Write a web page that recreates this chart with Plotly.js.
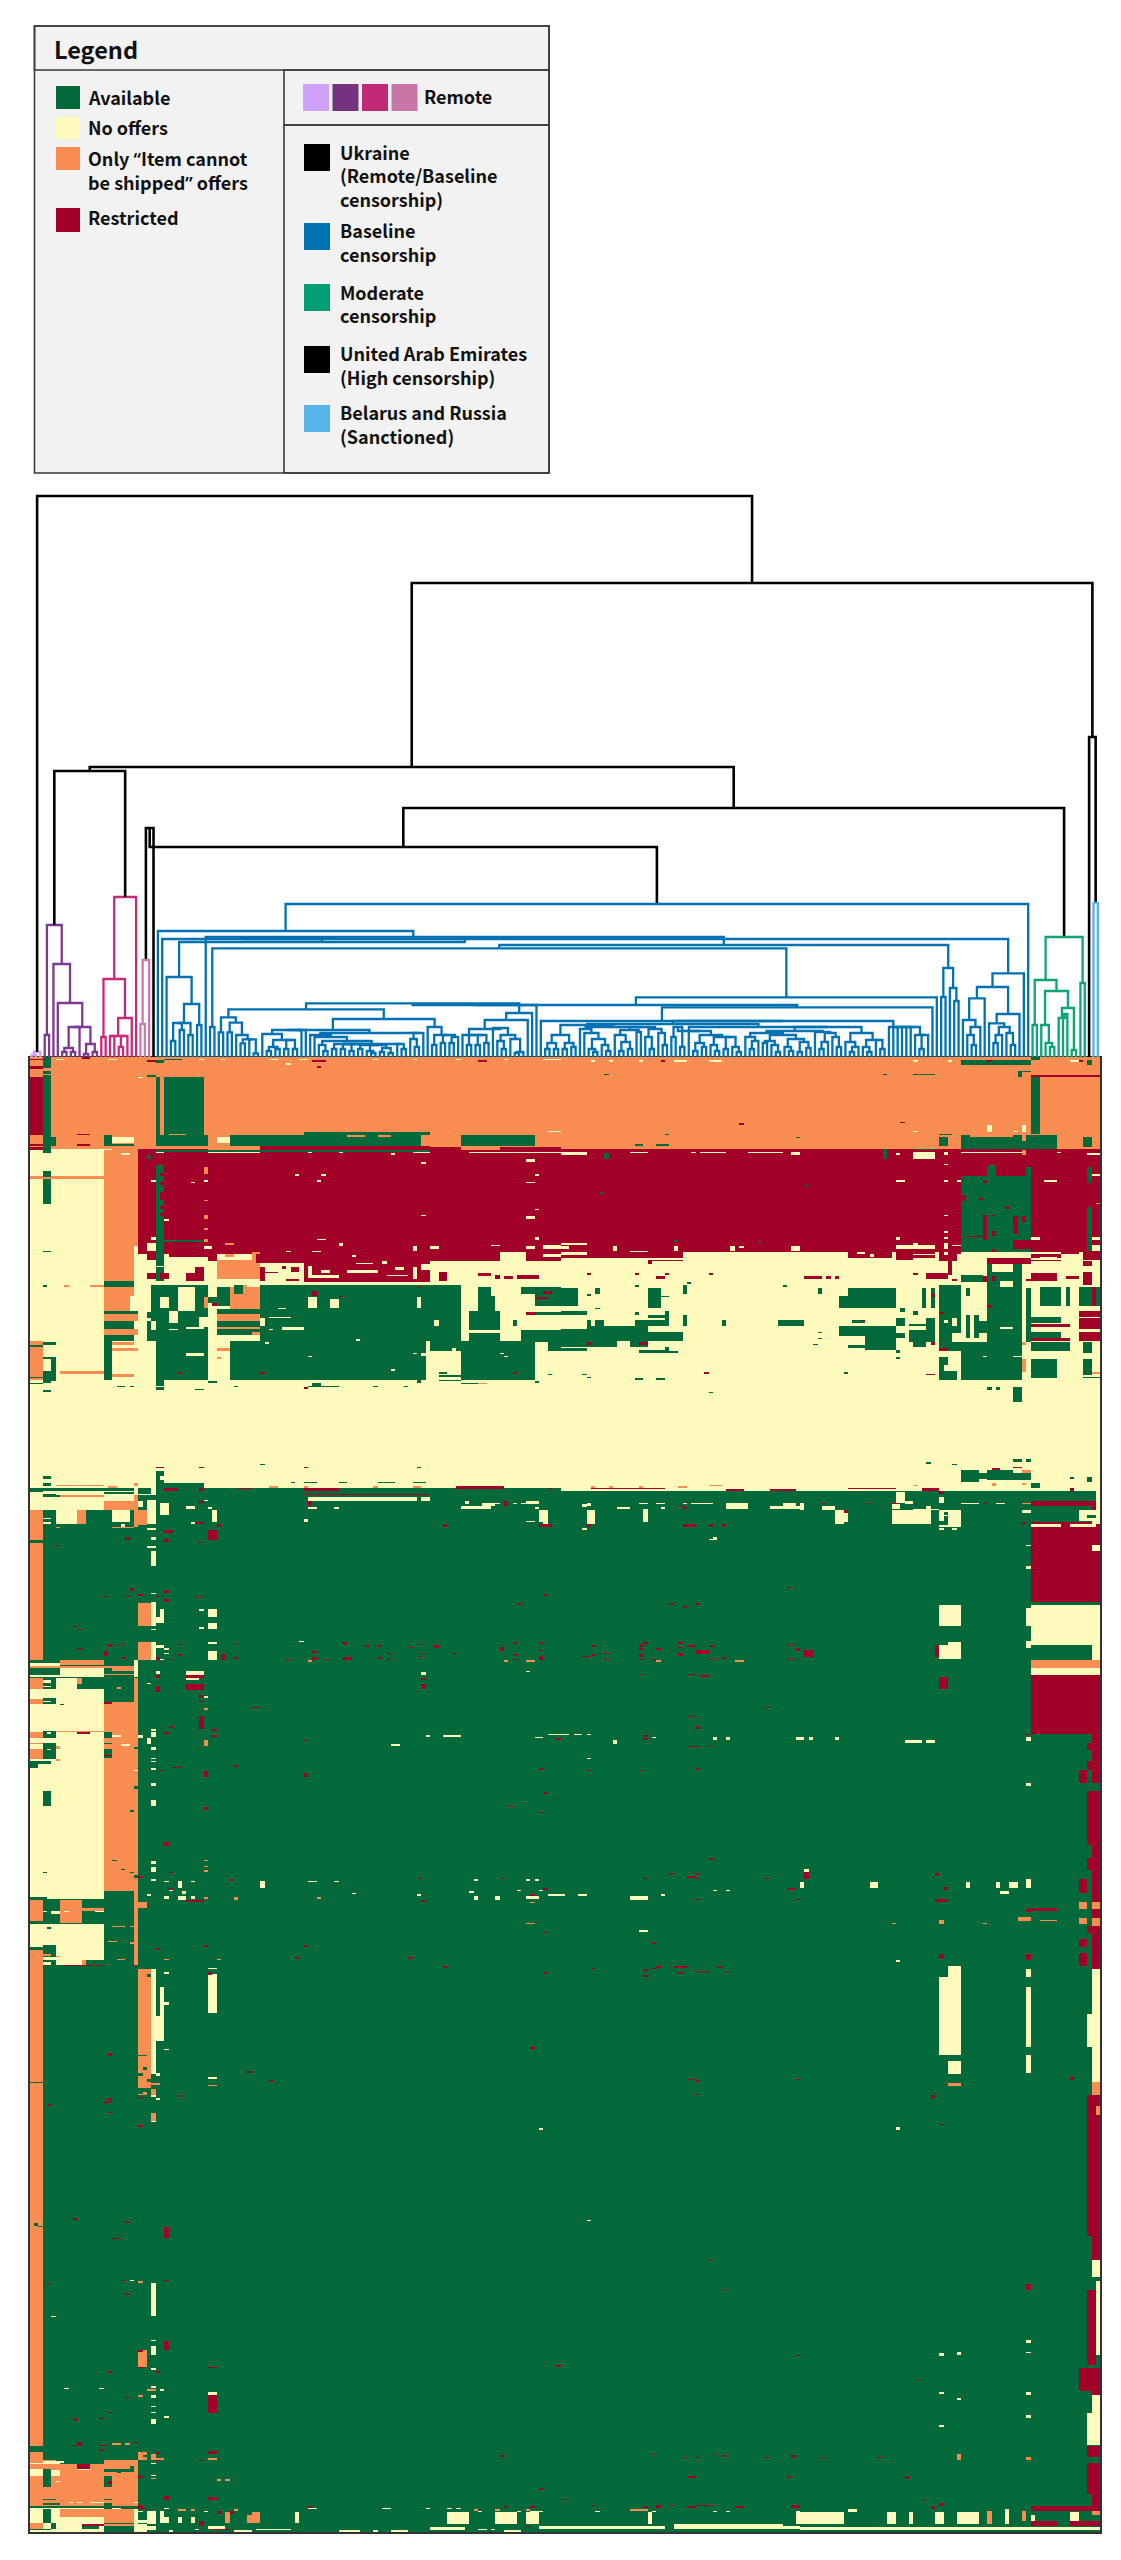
<!DOCTYPE html>
<html><head><meta charset="utf-8">
<script src="https://cdn.plot.ly/plotly-3.0.1.min.js"></script>
<style>html,body{margin:0;padding:0;background:#fff}#chart{width:1121px;height:2560px}</style>
</head><body><div id="chart"></div>
<script>
// ---- status codes and colours
const G=0,Y=1,O=2,R=3;
const statusColors=['#02693a','#fefbbd','#fa8e52','#a30029'];
const QUOTE='<span style="font-family:\'Noto Sans\'">';
const statusLabels=[['Available'],['No offers'],['Only '+QUOTE+'“</span>Item cannot','be shipped'+QUOTE+'”</span> offers'],['Restricted']];
const statusOrder=[G,Y,O,R];
const remoteColors=['#cfa3fb','#75327f','#c12a74','#c875a8'];
const clusterSwatches=['#000000','#0072b2','#009e73','#000000','#56b4e9'];
const clusterLabels=[['Ukraine','(Remote/Baseline','censorship)'],['Baseline','censorship'],['Moderate','censorship'],['United Arab Emirates','(High censorship)'],['Belarus and Russia','(Sanctioned)']];

// ---- dendrogram trees: [height, left, right, optional drawn leaf position]; 1 = one country
const palePurpleTree=[5,[2,1,1],1];
const purpleTree=[132,[22,1,1],[93,1,[54,1,[30,[30,[9,[5,1,1],[5,1,1]],1],[13,[3,1,1],[5,1,1]]]]]];
const magentaTree=[160,[78,[20,1,1],[39,[21,[21,1,1],[21,[10,1,1],1]],1]],1];
const paleMagentaTree=[97,[33,1,1],1];
const lightBlueTree=[154,1,1];
const greenTree=[120,[77,[32,1,1],[66,[32,1,[14,1,[10,1,1]]],[49,[39,1,[43,1,1]],[7,1,1]]]],[74,1,1]];

const c1=[80,1,[53,[34,[34,[16,1,1],[27,1,1]],[22,1,1]],[32,1,1]]];
const s2Left=[39.7,[24.7,1,1],[34.3,[24.7,1,1],[22,1,[17.7,[13.7,1,1],[17.7,1,[3.7,1,1]]]]]];
const a2x=[13,[8,1,1],[13,[8,1,1],[13,[6,1,1],[12,[8,1,1],[12,[6,1,[4,1,1]],[9,[5,1,1],[4,1,1]]]]]]];
const a2=[24,[22,1,[20,1,[16,[12,1,[6,1,1]],[13,a2x,[13,1,[8,1,1]]]]]],[24,[18,1,[10,1,1]],1]];
const b1Full=[27,[27,[27,[23,1,[17,[10,[6,1,1],[8,1,1]],[17,[8,1,1],[8,1,1]]]],1],1],a2];
const b2=[30,1,[22,[12,1,1],[22,[14,1,1],[20,[14,1,1],1]]]];
const s2=[47.7,s2Left,[38,b1Full,b2]];
const k99=[22,1,[22,[12,1,1],[22,[12,1,1],[14,1,1]]]];
const k106=[29,1,[22,[16,1,[8,1,1]],[18,1,[5,[4,1,1],1]]]];
const k99all=[44,[37,[28,k99,k106],1],1];
const u1=[53.7,s2,k99all];
const v1=[52,u1,1];
const ba=[22,[14,[8,1,1],[8,1,1]],[14,[8,1,1],[10,1,1]]];
const bb=[30,[28,1,[24,1,[18,[8,1,[5,1,1]],[12,1,[6,1,1]]]]],[30,[27,[22,1,[15,[6,1,1],[8,1,1]]],[25,1,1]],[28,[20,1,[8,1,1]],[24,1,[12,1,1]]]]];
const bc=[30,[20,1,1],[10,1,1]];
const bd=[26,1,[22,[14,[6,1,1],[10,1,1]],[20,[12,1,[6,1,1]],[20,[8,1,1],[10,1,[5,1,1]]]]]];
const be=[24,[20,1,[16,[8,1,1],1]],[22,[16,[14,1,1],[12,1,[5,1,1]]],[18,[10,1,[6,1,1]],[15,[5,1,1],[9,1,1]]]]];
const bf=[25,1,[24,[15,[8,1,1],1],[20,1,[10,1,1]]]];
const bg=[24,[15,1,[10,[5,1,1],1]],[17,[10,1,[5,1,1]],[17,1,[8,1,1]]]];
const bh=[30,1,[30,1,[30,1,[30,1,[30,1,[30,1,[22,1,[22,[8,1,1],1]]]]]]]];
const wide=[36,1,[36,[33,[32,ba,bb],[30,[26,bc,bd],[30,[26,be,bf],bg]]],bh]];
const w1=[52,v1,[49.7,wide,1]];
const s1=[59.7,w1,1];
const n213=[108.7,[30,1,1],s1];
const tail209=[89,[60,1,1],[69,1,[56,1,1]]];
const n946=[112,n213,tail209];
const p1=[120,1,n946];
const m1=[115,c1,p1];
const pale1=[118,1,m1];
const tail214=[70,[58.7,[37,1,[30,[22,1,[12,1,1]],1]],1],[43,[33.7,1,[30,[22,[14,1,1],1],[24,1,[12,1,1]]]],1]];
const tailAll=[83.7,tail214,1];
const n1=[118,pale1,tailAll,87.7];
const blueTree=[153,[126,1,n1],1];

const coloured=(c,t)=>({color:c,tree:t});
const dendro=[561,coloured('#cf9ffb',palePurpleTree),
 [474,
  [290,
   [286,coloured('#7d3a8e',purpleTree),coloured('#c62a78',magentaTree)],
   [249,[210,[229,coloured('#cc79a7',paleMagentaTree),1],coloured('#0072b2',blueTree)],coloured('#0ea575',greenTree)]],
  [320,1,coloured('#56b4e9',lightBlueTree)]]];

// ---- availability matrix, read as rectangles of equal status, crop by crop.
// Each entry: [from, to (along countries), from, to (along items), status]
const cellsA=[
 [85,1568,52,325,O],[385,1568,325,640,R],[85,285,325,1025,Y],[285,385,325,720,O],[372,1568,640,1020,Y],[285,372,720,1020,Y],[372,385,620,640,Y],
 [85,122,55,60,R],[85,122,80,87,R],[85,122,110,285,R],[122,147,52,325,G],[122,147,82,90,O],[122,147,100,105,O],[122,158,288,315,G],[122,147,315,340,G],[85,122,310,315,R],[85,122,320,328,R],
 [85,285,405,417,O],[122,147,395,490,G],[122,147,633,638,G],[122,147,410,415,O],
 [285,310,285,315,G],[310,372,290,308,Y],[222,258,281,285,R],[222,258,312,315,R],[310,372,312,316,G],[285,312,325,330,Y],[335,360,338,342,Y],
 [437,447,108,285,G],[460,573,108,285,G],[437,585,285,315,G],[470,525,282,285,O],[460,573,285,315,G],[585,610,285,325,O],[610,648,290,306,Y],[640,1185,285,315,G],[850,1200,275,285,G],[975,1025,283,288,O],[1060,1100,285,288,O],[1287,1500,285,315,G],[1530,1568,272,276,Y],
 [725,1200,316,328,R],[585,725,316,328,O],[440,1200,328,332,G],[440,585,318,326,O],[1200,1568,322,330,R],[1287,1400,322,328,O],
 [410,430,104,108,G],[385,397,108,113,Y],[410,430,58,62,R],[437,460,62,70,G],[460,510,55,60,G],[160,185,56,60,Y],[298,322,56,60,Y],[560,572,56,60,Y],[620,635,56,60,Y],[750,775,56,60,Y],[838,862,56,60,Y],[800,812,70,74,Y],[890,900,78,82,R],[875,912,60,64,R],[1040,1050,56,60,Y],[1155,1165,56,60,Y],[1280,1290,56,60,Y],[1340,1362,60,64,R],[1405,1415,56,60,Y],[1525,1568,56,60,Y],[225,258,53,56,R],
 [385,1568,333,339,Y],[385,437,325,355,R],[460,1200,339,345,R],[410,425,345,355,G],
 [460,585,333,340,R],[725,1160,333,339,R],[862,872,333,339,Y],[950,960,333,339,Y],[1100,1112,339,343,Y],[1175,1187,333,339,Y],[1200,1310,333,339,R],
 [437,460,375,590,G],[447,460,398,408,R],[447,460,425,435,R],[447,460,458,480,R],[447,460,495,505,R],[447,460,520,530,R],[460,573,602,606,G],[573,585,380,400,O],[573,585,418,423,Y],[573,585,480,485,O],[573,585,525,535,O],[573,585,565,570,O],[573,585,595,605,O],[422,437,418,423,Y],[460,472,535,540,Y],[535,548,423,427,Y],[822,835,400,405,Y],[900,912,400,405,Y],[887,898,418,423,Y],[1175,1187,365,370,Y],[1475,1490,355,368,Y],[1490,1502,400,405,Y],[1475,1500,425,430,Y],[1490,1502,505,512,Y],[1475,1490,527,535,Y],[1175,1187,525,530,Y],
 [422,435,592,602,Y],[412,437,610,630,Y],[437,460,592,610,G],[887,912,594,602,Y],[950,960,610,616,Y],[1490,1502,592,600,Y],[1375,1400,612,616,Y],[1150,1162,620,632,Y],[1200,1225,620,628,Y],[1475,1500,620,628,Y],[1525,1568,615,628,Y],[800,812,630,634,Y],[875,900,630,634,Y],[573,597,620,628,Y],[625,660,610,614,O],[625,660,640,648,O],
 [437,460,610,720,G],[437,460,675,680,Y],[460,585,650,720,Y],[385,437,640,690,Y],[410,437,700,715,R],[447,470,700,715,R],[525,570,700,720,R],[548,573,680,700,R],[385,420,640,660,Y],[410,437,640,660,R],[470,585,640,650,R],[585,610,640,665,R],
 [610,723,657,718,O],[700,723,635,657,O],[610,723,718,735,Y],[585,610,665,735,Y],
 [720,850,640,668,R],[737,850,668,725,Y],[787,800,676,686,R],[812,835,680,696,R],[725,735,680,720,R],[740,775,696,700,R],[800,835,716,722,R],
 [850,1200,640,725,R],[975,1062,690,698,Y],[900,925,690,698,Y],[862,873,675,710,Y],[985,1000,645,650,Y],[1075,1085,665,670,Y],[1112,1125,680,690,Y],[1150,1170,680,715,Y],[1000,1050,668,672,Y],[862,950,705,712,Y],[1080,1140,702,708,Y],[1175,1200,670,690,Y],
 [1200,1287,665,725,Y],[1225,1250,695,722,R],[1190,1200,690,725,R],[1287,1568,665,740,Y],[1340,1375,700,706,R],[1410,1437,706,716,R],[1450,1510,704,716,R],[1390,1400,704,716,R],[1200,1568,640,665,R],[1400,1475,635,665,Y],[1287,1400,655,662,R],[1475,1525,650,665,R],[1525,1568,640,650,Y],
 [285,372,720,740,G],[285,372,740,810,O],[358,385,765,810,Y],[285,385,810,822,G],[285,385,822,845,O],[285,372,845,865,G],[285,385,865,885,O],[285,372,885,900,G],[285,310,900,1022,G],[310,372,905,915,O],[310,385,925,935,O],[310,372,935,1000,Y],[310,372,1000,1010,O],[258,285,735,740,O],[185,197,735,740,O],[120,132,736,740,G],
 [412,437,815,900,G],[412,437,835,843,Y],[423,585,735,900,G],[447,472,770,805,Y],[497,545,740,810,Y],[470,497,810,850,Y],[520,575,860,867,Y],[475,497,865,870,Y],[573,585,770,803,O],[560,585,830,860,Y],[423,440,845,870,Y],
 [585,610,770,790,G],[597,610,790,800,R],[585,610,840,875,Y],
 [610,637,740,800,G],[637,723,740,807,O],[660,685,737,760,G],[685,697,737,765,O],[610,723,807,823,G],[610,723,823,842,O],[610,723,842,885,G],[610,723,860,867,O],[700,723,875,885,O],
 [723,1287,735,900,G],[862,888,770,803,Y],[925,948,775,803,Y],[1162,1175,770,803,Y],[1215,1230,840,855,Y],[775,800,803,808,Y],[750,810,832,836,Y],[723,735,835,855,Y],[787,850,862,870,Y],[750,760,865,870,Y],[875,888,755,765,R],[950,960,768,773,R],[862,950,728,735,Y],[1165,1175,738,745,R],
 [1287,1310,735,840,Y],[1338,1390,738,812,G],[1310,1338,740,810,Y],[1375,1390,740,765,Y],[1390,1463,740,900,Y],[1463,1500,738,760,G],[1500,1568,740,800,G],[1475,1500,760,800,Y],[1310,1400,812,900,G],[1300,1400,870,880,Y],[1463,1568,870,900,G],[1530,1568,800,812,Y],[1500,1568,815,825,G],[1500,1568,830,850,Y],[1500,1568,825,830,Y],[1440,1450,840,855,G],[1475,1490,815,825,R],[1520,1540,755,762,R],[1500,1527,770,776,R],
 [437,585,900,1020,G],[523,575,938,946,Y],[585,610,900,1020,Y],[585,622,905,918,Y],[610,648,905,1020,Y],[648,1187,900,1020,G],[1187,1287,940,1015,Y],[1175,1187,938,946,Y],[1200,1287,900,935,G],[1287,1500,900,1022,G],[1500,1530,905,935,Y],[1500,1568,935,1020,Y],[1500,1530,900,905,G],[1530,1568,900,935,G],[1225,1250,998,1002,G],[1225,1287,1005,1012,G],[1265,1275,925,938,Y],
 [500,510,997,1002,R],[725,735,997,1002,R],[1440,1450,997,1002,R],[1530,1550,1000,1005,G],[1100,1112,988,992,Y],[1000,1012,898,902,Y],[735,748,908,912,Y],[862,872,948,952,Y],[1150,1162,938,942,Y],[1400,1412,938,942,Y],[1415,1425,945,950,Y],[610,622,950,955,O],[610,648,925,935,O],
 [85,1568,1020,1345,Y],[437,460,1042,1050,G],[860,948,1035,1042,G],[875,900,1028,1035,G],[120,147,1050,1053,G],[85,122,1030,1034,G],[122,147,1025,1030,G],[322,347,1038,1042,G],[360,372,1035,1040,G],[548,573,1045,1050,G],[660,672,1038,1042,G],[1050,1060,1038,1042,G],[1125,1137,1038,1042,G],[848,860,1040,1044,R],[1287,1340,1028,1034,G],[1340,1362,1028,1032,O],[437,460,1020,1035,G],[585,610,1022,1026,G],[1162,1175,1020,1026,G],[1225,1287,1020,1025,G],[1500,1512,1025,1030,G],
 [85,122,900,1020,O],[85,122,915,920,G],[85,122,1010,1015,G],[122,158,905,1022,G],[122,147,915,950,Y],[122,147,958,990,Y],[147,158,915,950,Y],[172,285,992,1000,O],
 [725,735,1270,1274,G],[435,460,1282,1286,R],[560,572,1282,1286,R],[848,860,1282,1286,R],[1162,1175,1278,1286,G],
 [122,147,1305,1318,G],[122,147,1328,1340,G],[437,460,1295,1345,G],[447,460,1305,1320,Y],[460,573,1330,1342,G],[160,285,1335,1340,O],
 [460,573,1345,1350,G],[300,322,1338,1342,O],[372,385,1330,1340,O],[812,825,1325,1328,G],[848,885,1325,1328,G],[950,975,1325,1328,G],[1060,1112,1325,1328,G],[1150,1187,1325,1328,G],[750,772,1338,1342,O],[848,862,1338,1345,O],[665,700,1342,1346,R],[1040,1060,1338,1342,O],[1150,1175,1338,1342,O],[1280,1410,1340,1346,R],[1530,1550,1342,1346,R],
 [85,285,1350,1365,Y],[85,122,1350,1355,G],[122,160,1360,1368,G],[285,372,1350,1385,Y],[285,372,1358,1362,G],[372,437,1345,1365,Y],[385,420,1345,1360,G],[437,585,1345,1365,G],[460,500,1345,1350,R],[560,575,1345,1350,R],
 [585,1568,1350,1500,G],[85,122,1365,1390,Y],[122,172,1368,1385,Y],[172,285,1365,1372,O],[172,285,1372,1385,Y],[85,122,1390,1410,Y],[85,122,1392,1396,R],
 [85,122,1410,1500,O],[122,160,1385,1410,Y],[122,160,1410,1450,G],[130,158,1420,1426,Y],[160,222,1385,1450,Y],[222,235,1410,1450,O],[222,285,1385,1410,Y],[235,320,1410,1450,G],[285,372,1385,1410,O],[320,360,1410,1445,Y],[360,372,1410,1450,G],[372,385,1365,1450,O],[385,412,1365,1410,G],[372,412,1415,1450,O],[412,437,1380,1450,Y],[437,585,1365,1500,G],[122,585,1450,1500,G],[447,472,1390,1410,Y],[450,470,1410,1422,Y],[437,460,1425,1445,G],
 [862,1165,1370,1385,Y],[1175,1200,1370,1385,Y],[850,1200,1360,1367,R],[850,950,1345,1352,R],[862,875,1385,1395,R],[862,888,1400,1408,Y],[585,610,1468,1500,R],[600,610,1412,1445,Y],[1515,1527,1412,1450,Y],[1287,1350,1398,1408,Y],[1350,1375,1398,1408,Y],[522,550,1398,1404,Y],[848,862,1440,1445,Y],[550,575,1445,1450,R],[1475,1490,1442,1447,Y],[1515,1540,1452,1458,R],[1235,1250,1452,1458,R],[1415,1425,1385,1395,R],[1300,1310,1385,1392,Y],[1350,1385,1390,1396,Y],[1440,1450,1386,1392,Y],[1475,1512,1385,1392,Y],[350,358,1495,1499,R],[425,435,1495,1499,Y],[460,472,1470,1476,R],[610,622,1452,1458,R]
];
const cellsB=[
 [0,1510,52,325,O],[1122,1310,62,72,G],[1310,1335,52,62,G],[1275,1285,97,108,G],[985,1048,100,105,G],[120,132,100,105,G],[897,910,100,105,G],[1310,1335,108,280,G],[1310,1510,105,108,R],[1385,1395,108,112,O],[1425,1445,108,112,O],[1280,1310,90,95,G],[85,95,58,62,Y],[135,145,58,62,Y],[225,235,58,62,Y],[285,295,60,64,R],[320,358,58,62,Y],[410,447,58,62,Y],[985,995,58,62,Y],[1085,1097,58,62,Y],[1425,1450,58,62,Y],[1475,1485,62,75,G],[1450,1460,62,66,R],[1198,1210,58,62,R],
 [497,510,249,254,R],[947,960,244,248,R],[298,308,280,285,G],[660,672,288,293,G],[985,997,270,275,Y],[210,235,312,316,G],[272,310,312,316,G],
 [1122,1385,285,325,G],[1060,1085,288,315,G],[1060,1097,280,284,G],[1197,1210,255,275,Y],[1285,1298,255,275,Y],[1285,1298,285,305,O],[1460,1485,290,320,G],[1260,1275,270,274,Y],[1150,1260,283,287,O],
 [0,1510,325,635,R],[0,70,333,342,Y],[195,245,333,339,Y],[395,458,333,339,Y],[522,620,333,339,Y],[360,372,333,339,Y],[650,670,333,342,Y],[985,1048,335,355,Y],[985,1048,325,332,G],[120,132,340,355,G],[897,910,325,355,G],[935,947,339,343,Y],[1072,1085,335,345,Y],[1072,1085,370,375,Y],[1122,1300,333,340,Y],[1385,1397,333,340,Y],[1470,1510,337,345,Y],[1285,1297,330,345,O],
 [1122,1310,405,640,G],[1197,1222,375,405,G],[1297,1310,380,405,G],[1135,1185,585,592,R],[1185,1197,525,600,R],[1260,1272,530,580,R],[1260,1310,600,625,R],[1122,1135,465,485,R],[1237,1247,495,505,R],[1210,1222,525,530,R],[1285,1297,530,548,R],[1172,1185,475,480,R],[1210,1222,575,585,R],[1210,1222,625,635,R],[1185,1197,420,430,R],
 [1475,1487,380,430,G],[1475,1487,500,640,G],[1485,1510,400,405,Y],[935,958,418,423,Y],[1348,1385,420,426,Y],[1310,1335,592,602,Y],[1072,1085,418,425,Y],[1110,1122,418,424,Y],[1072,1085,525,530,Y],[685,697,432,437,G],[108,120,455,459,G],[1498,1510,487,491,O],[320,333,598,603,G],[548,560,605,610,G],
 [0,70,607,613,Y],[0,30,618,628,Y],[145,158,618,630,Y],[195,245,630,638,Y],[320,333,620,630,Y],[472,485,620,630,Y],[497,510,616,622,Y],[647,672,620,630,Y],[935,947,592,600,Y],[985,1000,610,615,Y],[935,1048,615,628,Y],[1072,1085,590,597,Y],[1072,1085,610,625,Y],[1097,1120,615,620,Y],[1072,1085,572,577,Y],[1485,1510,590,600,Y],[1485,1510,615,632,Y],[1310,1385,635,640,Y],
 [0,1510,635,1020,Y],[0,70,640,655,R],[70,345,635,655,R],[0,72,640,645,Y],[247,347,658,665,R],[247,260,665,672,R],[285,297,640,655,R],[800,930,635,655,R],[825,850,638,642,Y],[860,875,642,648,Y],[935,1048,628,660,R],[985,1048,640,645,Y],[985,1048,652,656,Y],[1060,1110,625,665,R],[1072,1085,635,645,Y],[1085,1097,665,705,R],[1110,1122,625,640,R],
 [1197,1310,655,670,R],[1310,1400,640,655,R],[1310,1400,660,665,R],[1340,1385,648,652,Y],[1460,1510,630,660,R],[1460,1485,665,675,R],[1400,1450,635,640,R],
 [0,45,742,800,G],[0,72,812,825,G],[0,72,868,918,G],[0,72,925,932,G],[72,160,855,920,G],[72,85,840,855,G],[95,120,840,855,G],[160,250,855,905,G],[250,347,875,900,G],[210,305,838,855,G],[297,307,810,855,G],[247,305,825,835,G],[347,357,825,855,G],[307,347,835,842,Y],[160,210,904,915,Y],[197,245,904,918,G],[222,245,908,916,R],[222,300,930,938,G],[297,307,920,935,G],[310,335,935,938,G],[247,285,742,805,G],[285,310,765,770,G],[97,107,742,762,G],[72,85,763,767,G],[210,222,737,741,G],[347,357,735,762,G],[350,357,725,730,G],[97,107,803,807,G],[210,222,818,825,G],[72,85,905,915,R],
 [447,458,840,856,G],[608,685,840,856,G],[722,733,742,764,G],[620,632,736,741,G],[785,935,742,805,G],[785,800,742,765,Y],[722,733,875,880,G],[722,733,893,897,G],[710,722,910,915,G],
 [785,935,855,890,G],[848,935,890,928,G],[785,800,855,885,G],[800,848,915,925,G],[935,960,880,895,G],[935,947,930,938,G],[935,947,950,955,G],[935,960,835,855,G],[822,848,840,850,G],[835,848,840,845,R],[947,960,805,815,G],[985,997,810,825,G],
 [1010,1022,742,802,G],[1035,1048,742,802,G],[1035,1048,760,770,R],[973,1048,872,905,G],[1022,1048,835,872,G],[973,1022,852,858,G],[985,1022,905,920,G],[1035,1048,905,915,R],
 [1060,1122,735,800,G],[1060,1122,800,935,G],[1072,1085,840,850,Y],[1097,1110,835,855,Y],[1072,1097,805,830,G],[1097,1122,880,905,Y],[1097,1122,860,875,G],[1060,1085,925,935,R],[1060,1072,815,820,R],
 [1060,1085,950,1022,G],[1085,1110,990,1022,G],[1072,1085,975,990,Y],[1022,1048,1000,1005,R],[1022,1048,1022,1026,G],[1085,1097,1040,1045,R],
 [1122,1285,905,1022,G],[1197,1285,670,905,G],[1210,1260,670,695,Y],[1235,1260,720,740,Y],[1235,1260,860,868,Y],[1122,1185,705,725,G],[1135,1147,742,765,G],[1122,1160,818,825,Y],[1135,1147,825,895,G],[1160,1172,825,895,G],[1172,1197,845,880,G],[1197,1210,795,805,R],[1285,1297,905,915,O],[1285,1297,958,995,O],[1185,1197,706,725,R],[1260,1285,945,952,Y],[1185,1197,945,952,Y],
 [1310,1385,958,1015,G],[1310,1420,908,935,G],[1310,1395,875,895,G],[1310,1395,828,850,G],[1335,1400,738,800,G],[1410,1422,740,800,G],[1297,1310,742,905,G],[1310,1420,852,860,R],[1320,1420,895,902,R],[1310,1385,1018,1022,G],[1285,1400,1025,1030,G],
 [1450,1510,740,800,G],[1485,1500,740,800,R],[1450,1510,810,830,R],[1450,1510,835,865,R],[1450,1510,875,900,R],[1460,1485,905,940,G],[1460,1485,958,1005,G],[1485,1510,995,1000,O],[1460,1510,1010,1015,G],[1485,1500,1025,1030,O],
 [685,733,706,718,R],[745,758,706,718,R],[772,785,706,718,R],[272,297,706,717,R],[1022,1085,700,717,R],[1310,1385,700,722,R],[1410,1448,706,718,R],[1460,1485,695,735,R],[70,85,700,705,R],[210,222,700,705,R],[297,307,700,705,R],[410,422,700,705,R],[985,997,700,705,R],[1100,1110,718,722,R],[1300,1310,718,722,R],[1210,1222,706,722,R],
 [397,410,995,1000,R],[60,72,1000,1005,G],[72,85,1010,1015,G],[170,197,1025,1030,G],[210,235,1015,1018,G],[270,297,1015,1020,G],[247,272,1027,1031,O],[285,295,1025,1031,R],[585,597,1027,1031,O],[620,647,1027,1031,O],[800,812,1027,1031,O],[835,848,1027,1031,O],[935,947,1027,1031,O],[790,800,995,1000,G],
 [0,1510,1020,1350,Y],[410,422,1054,1058,G],[1197,1210,1042,1050,G],[1222,1235,1042,1050,G],[1272,1285,1040,1085,G],[1022,1035,1265,1268,G],[1097,1110,1273,1277,G],[1272,1285,1280,1285,R],[1297,1310,1258,1265,G],[1272,1285,1258,1265,G],
 [1122,1172,1288,1325,G],[1197,1260,1288,1320,G],[1260,1310,1298,1320,G],[1172,1197,1298,1315,G],[1210,1235,1284,1288,R],[1285,1310,1290,1300,O],[1310,1335,1328,1342,G],[1425,1437,1310,1315,G],[1475,1485,1310,1325,G],[85,100,1338,1342,O],[130,145,1338,1342,O],[225,235,1338,1342,O],[325,358,1338,1342,O],[410,447,1335,1340,O],[990,1000,1335,1340,O],[1200,1210,1330,1338,O],[1285,1300,1330,1336,O],
 [0,1510,1350,1500,G],[0,85,1345,1350,Y],[85,290,1342,1346,R],[460,510,1346,1350,R],[585,660,1346,1350,R],[800,935,1343,1347,R],[1010,1060,1345,1350,R],
 [70,95,1412,1450,Y],[235,245,1408,1448,Y],[158,195,1400,1406,Y],[222,247,1386,1394,Y],[272,297,1386,1394,Y],[285,297,1400,1408,Y],[345,358,1386,1394,Y],[372,422,1386,1394,Y],[458,522,1386,1404,Y],[585,685,1395,1408,Y],[620,660,1386,1395,Y],[672,685,1386,1408,Y],[733,772,1395,1400,Y],[772,798,1412,1448,Y],[785,798,1412,1418,R],[60,85,1392,1396,Y],[735,745,1388,1394,R],[850,860,1386,1394,R],[922,945,1386,1394,R],[340,350,1400,1404,R],
 [935,960,1355,1390,Y],[960,985,1385,1392,Y],[985,1060,1404,1412,Y],[922,1035,1412,1450,Y],[990,1000,1445,1450,G],[1060,1072,1372,1390,Y],[1060,1072,1350,1362,R],[1085,1122,1412,1460,Y],[1060,1085,1410,1414,Y],[1060,1085,1425,1430,Y],[1060,1085,1455,1458,Y],[1122,1172,1386,1392,Y],[1222,1247,1386,1392,Y],[1185,1197,1386,1394,R],[1285,1310,1386,1394,O],[1285,1310,1400,1425,G],[1295,1310,1412,1418,Y],
 [1310,1485,1385,1395,R],[1485,1498,1385,1410,R],[1450,1498,1412,1440,Y],[1475,1498,1425,1432,G],[1310,1510,1445,1465,R],[1310,1400,1450,1458,Y],[1420,1500,1450,1458,Y],[1310,1510,1465,1500,R],[1500,1510,1482,1498,Y],[1498,1510,1350,1440,Y],[1420,1430,1345,1350,R],[1345,1358,1460,1464,G],[1285,1297,1445,1452,R],[345,372,1452,1458,R],[410,422,1452,1458,R],[447,460,1452,1458,R],[70,85,1452,1458,R],[420,435,1495,1499,Y],[60,72,1465,1469,Y],[1060,1072,1465,1470,Y],[1097,1110,1465,1470,Y]
];
const cellsC=[
 [92,131,30,110,O],[92,131,122,447,O],[131,305,0,25,Y],[92,131,0,30,Y],[170,238,25,67,Y],[238,250,30,67,O],[131,170,30,67,G],[131,157,50,54,Y],[131,157,60,64,Y],[305,398,10,25,O],[345,385,30,60,Y],[332,398,75,80,O],[358,372,68,73,Y],[400,412,0,75,O],[412,440,40,70,O],[412,425,5,18,Y],[412,440,28,34,O],
 [452,466,0,25,Y],[452,466,30,60,Y],[452,466,140,185,Y],[478,505,15,25,Y],[641,653,30,60,Y],[627,640,18,24,Y],[627,653,82,110,R],[910,923,55,60,Y],[575,587,63,67,Y],[590,615,60,64,R],[922,936,7,12,R],[936,950,20,25,Y],[1003,1017,18,21,Y],[560,587,18,21,Y],[600,612,2,5,R],[612,625,0,5,Y],[438,466,80,84,Y],[452,466,105,110,Y],[438,466,130,134,Y],[170,182,76,80,O],
 [412,452,290,350,O],[452,466,285,350,Y],[480,492,305,342,Y],[466,492,328,342,Y],[600,615,307,311,Y],[627,653,307,327,Y],[627,653,345,360,Y],[600,615,356,360,Y],[452,466,260,264,Y],[452,466,360,364,Y],
 [412,452,400,447,O],[452,466,400,447,Y],[466,492,405,413,Y],[492,508,415,420,Y],[492,508,428,432,Y],[627,653,423,448,Y],[627,653,400,403,Y],[895,908,395,399,Y],[922,936,448,452,O],[478,492,445,449,Y],
 [92,131,450,458,G],[183,305,450,460,O],[92,183,458,465,Y],[92,412,465,470,O],[183,305,470,495,Y],[92,183,475,490,G],[92,183,490,495,Y],[400,412,450,495,Y],[305,398,475,490,G],[332,398,470,476,O],[305,398,486,492,O],[92,131,497,527,O],[131,170,497,527,G],[131,157,505,510,Y],[131,157,518,522,Y],[170,238,497,527,Y],[238,250,497,515,O],[250,398,497,525,G],[92,305,527,645,Y],[131,170,555,572,G],[131,157,560,565,Y],[92,131,558,572,O],[183,197,569,573,G],
 [305,412,565,1095,O],[305,398,525,565,G],[398,412,497,565,O],[345,358,525,530,O],[305,332,567,572,R],
 [92,305,645,1115,Y],[92,131,652,668,O],[131,170,645,665,G],[143,157,650,655,Y],[170,305,645,650,O],[238,277,650,653,R],[92,131,680,685,O],[131,170,680,690,G],[92,131,695,727,O],[131,170,690,725,G],[145,157,697,702,Y],[92,160,730,750,G],[117,157,738,752,Y],[170,182,724,728,O],[170,182,690,695,O],[131,157,815,855,G],[305,332,650,668,G],[332,360,657,661,Y],[358,385,683,686,Y],[305,332,680,685,G],[305,332,695,722,G],[305,332,712,718,R],[398,412,692,696,G],[398,412,755,760,Y],[398,412,800,810,G],[385,400,867,871,G],[332,345,1008,1012,G],[358,372,1033,1037,G],[385,400,1043,1047,G],[398,412,1050,1056,G],[131,143,1042,1047,G],[92,145,1113,1117,G],
 [305,398,1097,1112,G],[398,412,1095,1120,O],[412,440,1127,1142,O],
 [92,131,1120,1180,O],[183,250,1120,1185,O],[250,305,1143,1150,O],[131,183,1120,1185,G],[250,305,1120,1140,G],[157,183,1150,1160,Y],[197,210,1150,1155,Y],[290,305,1150,1155,Y],[131,145,1150,1155,Y],[305,398,1115,1187,G],[92,131,1183,1190,G],[92,305,1187,1287,Y],[143,157,1195,1199,G],[92,131,1260,1300,O],[131,170,1245,1280,G],[92,131,1250,1258,G],[131,157,1272,1278,O],[170,240,1290,1300,Y],[240,250,1290,1300,O],[170,182,1275,1280,O],[92,131,1300,1568,O],[131,157,1295,1300,Y],[400,412,1120,1300,O],[332,372,1192,1197,O],[385,412,1192,1197,O],[318,345,1235,1238,O],[345,372,1285,1288,O],[385,400,1238,1242,O],
 [412,452,1315,1568,O],[440,452,1325,1335,G],[452,466,1315,1550,Y],[466,492,1445,1515,Y],[478,492,1365,1445,Y],[492,508,1408,1413,Y],[478,505,1520,1540,G],[627,653,1325,1438,Y],[627,653,1308,1313,Y],[627,640,1322,1330,R],[492,505,1322,1325,Y],[492,505,1535,1538,Y],[197,305,1300,1306,R],[400,412,1300,1305,R],[92,105,1553,1556,G],
 [560,615,480,490,Y],[600,615,477,482,Y],[560,615,490,500,R],[560,600,500,503,Y],[560,615,515,532,R],[600,615,603,640,R],[600,615,545,552,R],[615,628,548,552,Y],[600,615,562,566,R],[467,480,520,535,R],[467,480,490,497,R],[467,480,480,487,Y],[438,452,512,516,Y],[612,628,670,686,O],[910,923,762,778,R],[492,508,958,970,R],[452,466,795,803,Y],[452,466,838,857,Y],[612,628,582,587,O],[640,653,642,646,R],[640,653,658,662,R],[412,425,660,668,Y],[440,452,668,682,Y],[452,466,640,644,Y],[452,466,652,662,Y],[452,466,694,699,Y],[452,466,720,725,Y],[452,466,730,735,Y],[452,466,750,754,Y],[1178,1192,683,686,Y],[758,775,578,582,R],
 [612,627,1008,1012,O],[612,627,1025,1029,O],[612,627,1038,1042,O],[452,466,1010,1018,Y],[452,466,1030,1042,Y],[452,466,1060,1066,Y],[492,505,1065,1068,Y],[573,587,1065,1068,Y],[922,950,1065,1068,Y],[1003,1017,1065,1068,Y],[412,425,1053,1058,R],[505,520,1043,1047,R],[695,708,1060,1063,R],
 [533,547,1067,1087,Y],[775,788,1067,1087,Y],[533,560,1110,1120,Y],[547,560,1097,1104,Y],[573,587,1110,1117,Y],[492,505,1110,1117,Y],[508,520,1092,1096,Y],[438,452,1105,1109,Y],[560,615,1120,1125,R],[612,628,1112,1117,O],[708,720,1112,1120,O],[950,964,1112,1116,O],[1058,1070,1101,1104,Y],[505,518,1088,1091,R],
 [500,508,85,90,R],[492,508,110,118,R],[378,385,105,110,R],[600,615,118,122,R],[172,185,126,130,R],[385,400,248,256,R],[412,425,262,270,R],[492,508,252,260,R],[305,318,268,272,R],[370,385,268,272,R],[467,480,268,272,R],[492,508,277,283,R],[585,615,268,272,R],[225,238,352,356,R],[238,250,360,364,R],[318,332,403,410,R],[345,372,403,407,R],[305,318,423,435,R],[527,547,433,438,R],[698,708,403,408,R],[1030,1043,400,407,R],[1030,1058,442,448,R],[855,868,443,448,R],[978,990,443,448,R],[1165,1178,427,432,R],[1165,1178,443,448,R],[658,668,430,448,R],[698,708,440,444,R],[237,250,415,420,R],[530,545,403,407,R],[360,372,440,444,R],[505,520,443,448,R],[467,480,440,448,R],[937,950,424,428,R],[937,950,442,448,R],[1098,1110,407,411,R],[1138,1150,407,411,R],[1138,1150,440,444,R],
 [518,547,747,752,R],[698,708,741,746,R],[480,492,757,761,R],[492,505,650,653,R],[505,518,633,636,R],[615,627,760,778,R],[910,923,670,675,R],[612,627,862,867,R],[910,923,1247,1250,R],[883,895,1280,1284,R],[465,480,1255,1258,R],[612,627,1247,1252,R],[492,505,1284,1288,O],[653,668,1285,1289,O],[318,330,1553,1556,R]
];
const cellsD=[
 [92,131,0,1190,O],[92,131,95,100,G],[103,117,520,526,G],[117,131,526,532,G],[92,131,1190,1207,G],[92,131,1207,1240,O],[131,170,1230,1238,O],[92,412,1245,1370,O],[305,412,1230,1245,O],[92,183,1240,1245,Y],[131,197,1235,1240,Y],[92,131,1258,1280,Y],[131,160,1255,1310,G],[157,183,1262,1278,Y],[170,183,1292,1297,Y],[305,398,1255,1265,G],[345,358,1265,1270,G],[385,400,1250,1268,G],[305,332,1280,1310,G],[318,330,1295,1300,R],[385,400,1292,1296,G],[305,332,1345,1352,G],[305,332,1362,1378,G],[131,170,1345,1352,G],[131,183,1360,1365,G],[238,277,1245,1255,R],[238,277,1258,1262,Y],[210,225,1355,1360,Y],[238,250,1355,1360,Y],[265,305,1355,1360,Y],[400,412,1355,1362,Y],[358,400,1372,1378,G],[332,358,1372,1378,Y],
 [92,305,1372,1378,Y],[92,131,1380,1420,Y],[131,157,1380,1400,G],[157,183,1380,1440,Y],[183,305,1380,1400,O],[183,305,1400,1440,Y],[92,131,1420,1438,O],[157,170,1420,1438,G],[305,400,1380,1420,O],[305,400,1420,1425,G],[305,400,1425,1430,O],[400,412,1380,1445,Y],[412,440,1412,1420,Y],[412,440,1425,1445,Y],[440,466,1385,1422,Y],[440,466,1430,1442,Y],[412,425,1382,1386,Y],[250,305,1422,1428,R],[250,295,1430,1436,G],[131,157,1420,1438,Y],[305,400,1438,1445,G],[92,305,1440,1445,Y],[412,440,1372,1376,R],[412,425,1365,1372,R],
 [412,452,0,115,O],[412,440,15,18,G],[425,440,50,58,G],[412,425,70,78,G],[440,452,85,95,G],[452,466,10,75,Y],[466,480,70,76,Y],[452,480,100,106,O],[412,440,130,136,O],[425,440,128,133,O],[412,425,142,146,R],[452,466,138,142,Y],[467,480,146,150,Y],[452,466,117,135,O],[452,466,192,212,O],[452,466,212,218,Y],[412,425,228,232,R],[412,440,900,952,O],[412,425,900,905,R],[412,425,953,957,R],[452,466,697,800,Y],[452,466,872,876,Y],[452,466,890,917,Y],[452,466,957,961,Y],[467,480,966,970,R],[492,508,533,563,R],[492,508,876,900,R],[627,653,1037,1092,R],[627,653,1028,1037,Y],[627,653,80,85,Y],[627,653,106,110,O],[532,547,137,142,R],[412,425,692,696,O],[412,425,1038,1043,O],[440,466,1020,1025,O],[452,466,1010,1014,Y],[478,492,1020,1024,Y],[452,466,1035,1045,Y],[452,466,1068,1072,Y],[452,466,1086,1090,Y],[452,466,1110,1120,Y],[492,508,1100,1104,Y],[412,440,1207,1228,O],[425,440,1215,1222,G],[452,466,1212,1228,O],[467,492,1225,1230,O],[467,480,1228,1234,R],[467,480,1207,1212,R],[600,612,1230,1235,R],[627,653,1225,1229,O],[452,466,1238,1243,Y],[452,466,1275,1280,Y],[452,466,1285,1288,O],[653,668,1288,1293,O],[682,693,1288,1293,O],[492,505,1100,1104,Y],
 [478,492,1385,1400,Y],[478,508,1403,1420,Y],[533,547,1400,1420,Y],[575,587,1400,1420,Y],[682,693,1387,1420,O],[735,775,1395,1420,O],[750,775,1387,1395,O],[883,895,1387,1420,Y],[600,615,1415,1430,R],[532,560,1378,1382,O],[575,587,1378,1382,O],[615,628,1382,1386,Y],[492,507,1374,1378,Y],[653,668,1385,1390,R],[695,708,1385,1390,R],[708,720,1378,1382,O],[925,950,1374,1378,Y],[925,937,1370,1374,R],[1150,1178,1374,1378,Y],
 [627,680,1430,1436,Y],[587,600,1436,1442,Y],[640,695,1436,1440,R],[505,520,1441,1445,Y],[708,750,1441,1445,Y],[763,870,1437,1443,Y],[800,830,1441,1445,G],[1017,1085,1441,1445,Y],[1125,1138,1441,1445,Y],[1178,1200,1441,1445,Y],
 [143,157,162,167,R],[305,332,152,158,R],[318,332,187,190,R],[318,332,143,147,R],[318,330,963,966,R],[318,330,12,16,R],[225,238,505,509,R],[370,385,514,518,R],[343,358,563,567,R],[360,372,689,692,R],[385,398,689,692,Y],[492,508,688,695,R],[143,157,697,700,R],[372,385,730,733,R],[225,238,1105,1112,R],[291,305,1102,1108,R],[318,332,1087,1090,R],[372,385,1043,1046,R],[627,653,952,957,R],[627,653,1205,1212,R],[492,505,1338,1352,R],[627,653,1344,1352,R],[238,250,1178,1188,R],[225,238,1185,1189,R],[291,318,1187,1190,R],[291,305,1198,1202,R],[332,358,1180,1184,O],[372,385,1180,1184,O],[400,412,1176,1180,R],[197,210,1015,1019,Y],[291,305,1015,1019,Y],[157,170,796,800,Y],[532,547,137,141,R],[738,748,66,70,R],[800,812,89,93,R],[412,425,1280,1284,R],[600,612,1230,1235,R],[385,400,1292,1296,O]
];
const rightYellow=[[0,15,5,15],[70,105,8,14],[108,135,15,35],[270,390,15,35],[270,300,6,12],[380,390,8,12],[418,430,18,30],[445,485,15,40],[672,685,65,68],[672,685,98,101],[418,445,155,185],[445,485,155,185],[672,685,160,185],[685,875,155,215],[875,900,155,238],[445,485,210,235],[418,445,215,235],[672,685,207,220],[685,900,248,260],[875,900,65,75],[875,900,30,35],[310,365,354,359],[108,122,350,354],[0,15,350,354],[30,42,350,354],[378,405,355,360],[672,685,350,356],[672,685,420,423],[0,15,565,575],[204,230,565,575],[498,512,565,575],[592,606,565,575],[632,646,565,575],[672,687,562,575],[605,632,578,583],[15,30,545,550],[418,485,705,820],[445,485,690,705],[445,485,830,850],[672,687,695,705],[672,687,720,810],[672,687,820,848],[875,900,695,860],[862,875,760,810],[875,900,1125,1150],[888,900,1155,1265],[875,900,1318,1350],[862,900,1352,1398],[0,135,1498,1515],[258,283,1498,1515],[325,338,1498,1515],[405,430,1498,1515],[472,540,1498,1515],[618,632,1493,1515],[805,832,1497,1515],[685,700,1503,1515],[0,900,1519,1523],[145,175,1493,1497],[672,685,1243,1247],[672,685,1260,1263],[418,430,1262,1266],[472,485,1260,1264],[418,430,1320,1323],[472,485,1328,1332],[418,430,1368,1371],[672,685,1320,1325],[672,685,1354,1358],[282,298,680,683],[282,298,928,931]];
const rightRed=[[685,875,40,150],[875,900,40,65],[875,900,75,150],[15,40,222,232],[405,418,215,232],[418,445,262,280],[685,900,260,345],[672,685,345,348],[875,900,345,420],[862,900,360,370],[862,900,385,400],[835,860,400,420],[862,900,430,510],[875,900,510,530],[875,900,530,695],[862,875,530,548],[835,860,562,580],[835,860,650,660],[835,860,670,690],[862,875,630,640],[862,900,880,1090],[875,900,1090,1125],[862,888,1170,1280],[835,900,1285,1318],[875,900,1318,1325],[862,900,1400,1415],[862,900,1425,1470],[875,900,1470,1490],[685,900,1488,1495],[685,770,1510,1518],[805,900,1510,1518],[15,30,550,560],[672,685,672,680],[672,685,1160,1168],[685,770,604,608],[418,430,672,678],[418,430,922,926],[390,405,880,885],[805,820,855,858],[672,685,605,610],[405,418,552,556],[405,445,590,595],[430,445,572,576],[355,368,1300,1302],[310,325,1445,1448],[362,378,1478,1480],[418,430,1485,1488],[390,405,1488,1492],[60,75,1415,1418],[230,245,1415,1418]];
const rightOrange=[[685,900,238,248],[445,485,862,868],[835,860,595,605],[835,860,618,628],[875,900,595,605],[875,900,618,630],[658,685,617,623],[712,768,620,623],[270,283,625,628],[552,566,625,628],[418,430,620,628],[875,900,860,880],[888,900,895,910],[472,485,1412,1420],[672,685,1415,1420],[565,580,1495,1515],[660,672,1495,1510],[875,900,1495,1503]];
const midYellow=[[0,45,0,5],[60,85,0,5],[180,220,20,28],[247,272,20,28],[193,205,6,10],[287,300,6,10],[342,355,6,10],[370,420,6,14],[408,420,20,28],[422,435,32,68],[556,582,32,68],[730,745,28,68],[718,745,6,14],[772,798,6,14],[785,798,20,28],[852,865,6,14],[878,932,6,14],[972,1040,6,22],[662,690,20,28],[1107,1172,15,28],[1147,1172,6,15],[545,555,14,20],[556,570,6,14],[932,945,113,118],[60,72,516,524],[380,395,512,516],[72,86,704,708],[126,180,704,708],[436,502,700,705],[515,542,700,705],[555,570,700,705],[408,435,708,716],[637,650,717,731],[757,770,708,714],[932,945,708,717],[972,986,708,717],[1188,1200,708,717],[555,570,771,775],[220,235,1138,1142],[380,395,1138,1142],[408,422,1138,1142],[355,368,1169,1173],[422,435,1169,1173],[932,945,1169,1173],[972,986,1169,1173],[205,220,1174,1180],[45,58,1183,1187],[220,235,1188,1200],[287,300,1188,1200],[380,422,1188,1197],[447,490,1183,1188],[528,556,1183,1188],[690,745,1188,1200],[785,798,1183,1188],[717,745,1290,1295]];
const midRed=[[126,138,72,78],[422,447,72,78],[555,570,72,78],[852,880,72,78],[920,933,72,78],[960,973,72,78],[315,328,6,14],[838,852,18,22],[435,448,282,288],[355,368,311,315],[812,825,311,315],[852,865,320,323],[880,905,311,315],[1162,1175,262,266],[20,33,441,445],[45,60,432,436],[100,113,436,444],[60,72,458,462],[45,60,467,471],[153,166,458,462],[302,315,440,455],[342,355,428,431],[342,355,463,466],[342,355,475,480],[422,435,428,431],[422,435,449,455],[422,435,466,480],[570,582,436,440],[610,623,456,459],[545,570,467,471],[570,582,463,466],[610,623,475,480],[718,732,432,440],[732,745,428,431],[718,732,445,448],[718,732,462,471],[718,732,475,480],[772,785,445,448],[757,772,475,480],[838,852,428,431],[838,852,441,445],[838,852,458,466],[865,892,436,440],[920,933,436,440],[880,920,450,462],[920,945,474,480],[960,973,473,476],[1160,1188,430,436],[1188,1200,445,453],[1160,1188,475,480],[60,72,534,539],[60,72,553,565],[718,732,522,525],[865,880,522,525],[905,920,526,530],[1095,1108,620,624],[865,880,646,651],[880,905,680,687],[732,745,705,709],[732,745,714,718],[462,475,714,718],[865,880,737,741],[892,905,737,741],[920,933,737,741],[422,435,804,807],[555,570,808,813],[718,732,808,813],[892,905,804,807],[435,448,875,880],[328,342,918,923],[422,435,934,938],[920,933,1073,1076],[45,60,1134,1138],[300,313,1132,1135],[730,745,1134,1138],[812,825,1122,1126],[865,880,1127,1134],[892,905,1122,1126],[880,892,1134,1138],[1095,1108,1134,1138],[1162,1188,1165,1169],[435,447,1165,1169],[395,408,1183,1187],[60,72,1201,1205],[880,892,1198,1202],[1188,1200,1198,1202],[435,448,1296,1300],[757,772,1327,1331],[20,33,1373,1377],[126,138,1398,1402],[435,448,1416,1420],[570,582,1403,1408],[732,745,1408,1411],[757,772,1403,1408],[772,785,1399,1402],[825,865,1399,1403],[838,852,1416,1420],[892,920,1411,1416],[945,960,1399,1402],[972,986,1411,1416],[732,745,1427,1431]];
const midOrange=[[315,328,480,484],[380,408,480,484],[772,785,480,484],[1000,1027,480,484],[395,408,1206,1210],[380,408,1269,1273]];
const lowYellow=[[72,86,1464,1467],[138,153,1464,1467],[167,180,1464,1467],[138,205,1477,1512],[287,355,1477,1512],[355,368,1472,1476],[233,247,1472,1476],[380,422,1477,1512],[395,435,1472,1476],[422,435,326,330],[555,570,600,603],[582,596,1472,1476],[932,945,1472,1476],[972,986,1472,1476],[757,770,1472,1476],[745,757,1477,1515],[1188,1200,1472,1515],[0,30,1530,1534],[85,190,1522,1530],[235,260,1527,1530],[275,287,1525,1532],[315,370,1530,1533],[410,700,1516,1526],[700,800,1520,1526],[820,1000,1515,1525],[1000,1150,1513,1527],[1150,1200,1520,1526]];
const lowRed=[[395,408,80,84],[865,880,175,182],[880,892,180,183],[880,892,223,227],[920,933,716,720],[960,973,806,810],[1188,1200,175,179],[462,475,1038,1043],[1188,1200,1007,1011],[300,313,1307,1311],[757,772,1302,1307],[852,865,1311,1316],[880,892,1311,1316],[932,945,1302,1307],[960,973,1307,1311],[1095,1108,1311,1316],[1175,1188,1307,1316],[865,880,1370,1375],[1162,1175,1370,1375],[422,435,1405,1409],[475,490,1438,1442],[570,582,1456,1460],[730,745,1459,1463],[772,785,1455,1463],[812,825,1456,1460],[865,880,1459,1463],[892,932,1455,1460],[1000,1027,1459,1463],[1175,1200,1456,1463],[315,328,1459,1463],[395,408,1459,1463],[380,395,1517,1521]];
const lowOrange=[[220,235,1468,1472],[690,745,1468,1473],[287,300,1468,1473],[380,395,1468,1473]];

// ---- matrix assembly
const nCountries=246, nItems=983;
const z=Array.from({length:nItems},()=>new Array(nCountries).fill(G));
const LEFT=29.5,TOP=1057,CW=1070.5/nCountries,RH=1475/nItems;
function paint(list,ox,oy,sx,sy,code){
  list.forEach(r=>{
    const v=code===undefined?r[4]:code;
    let c0=Math.round((ox+r[0]/sx-LEFT)/CW),c1=Math.round((ox+r[1]/sx-LEFT)/CW);
    let r0=Math.round((oy+r[2]/sy-TOP)/RH),r1=Math.round((oy+r[3]/sy-TOP)/RH);
    if(c1<=c0)c1=c0+1; if(r1<=r0)r1=r0+1;
    for(let i=Math.max(r0,0);i<Math.min(r1,nItems);i++)for(let j=Math.max(c0,0);j<Math.min(c1,nCountries);j++)z[i][j]=v;
  });
}
paint(cellsA,0,1040,2.8,3);
paint(cellsB,560,1040,2.795,3);
paint(cellsC,0,1500,3,2.8);
paint(cellsD,0,2050,3,3);
paint(midYellow,400,1500,3,3,Y);paint(midRed,400,1500,3,3,R);paint(midOrange,400,1500,3,3,O);
paint(lowYellow,400,2020,3,3,Y);paint(lowRed,400,2020,3,3,R);paint(lowOrange,400,2020,3,3,O);
paint(rightYellow,800,1500,3,1.479,Y);paint(rightRed,800,1500,3,1.479,R);paint(rightOrange,800,1500,3,1.479,O);

// ---- dendrogram walk
const segs={};
let nextLeaf=0;
function add(color,xs,ys){(segs[color]=segs[color]||{x:[],y:[]});segs[color].x.push(...xs,null);segs[color].y.push(...ys,null);}
function walk(node,color){
  if(node===1){return {x:nextLeaf++,h:0};}
  if(node.tree){return walk(node.tree,node.color);}
  const a=walk(node[1],color),b=walk(node[2],color),h=node[0];
  add(color,[a.x,a.x,b.x,b.x],[a.h,h,h,b.h]);
  return {x:node[3]!==undefined?node[3]:(a.x+b.x)/2,h};
}
walk(dendro,'#000000');

// ---- figure
const W=1121,H=2560;
const px=v=>v/W, py=v=>1-v/H;
const font={family:'"Noto Sans CJK SC","Noto Sans CJK JP","Source Sans Pro",sans-serif',color:'#111',size:18,weight:600};
const shapes=[],annotations=[];
const box=(x0,y0,x1,y1,fill,line)=>shapes.push({type:'rect',xref:'paper',yref:'paper',x0:px(x0),x1:px(x1),y0:py(y0),y1:py(y1),fillcolor:fill,line:line?{color:line,width:1.6}:{width:0},layer:'above'});
const text=(x,y,s,f)=>annotations.push({xref:'paper',yref:'paper',x:px(x),y:py(y-1),text:s,showarrow:false,xanchor:'left',yanchor:'middle',align:'left',font:Object.assign({},font,f||{}),borderpad:0,borderwidth:0,bgcolor:'rgba(0,0,0,0)'});
box(34.5,26,549,473,'#f2f2f2','#3a3a3a');
box(34.5,26,549,70,'rgba(0,0,0,0)','#3a3a3a');
box(284,70,549,125,'rgba(0,0,0,0)','#3a3a3a');
box(284,125,549,473,'rgba(0,0,0,0)','#3a3a3a');
text(54,50.5,'Legend',{size:23.5});
const statusY=[[86,109],[117,139],[147,170],[208,232]], statusTextY=[[98],[128],[159,183],[218]];
statusOrder.forEach((c,i)=>{box(56,statusY[i][0],80,statusY[i][1],statusColors[c]);statusLabels[i].forEach((l,k)=>text(87.5,statusTextY[i][k],l));});
const remoteX=[303,332.5,362,391.5];
remoteColors.forEach((c,i)=>box(remoteX[i],84,remoteX[i]+26,111,c));
text(424,97,'Remote');
const clusterY=[144,223,284,346,405], clusterTextY=[[153,176,200],[231,255],[293,316],[354,378],[413,437]];
clusterSwatches.forEach((c,i)=>{box(304,clusterY[i],330,clusterY[i]+27,c);clusterLabels[i].forEach((l,k)=>text(340,clusterTextY[i][k],l));});

const traces=[{
  type:'heatmap',z:z,xaxis:'x',yaxis:'y',zmin:0,zmax:3,showscale:false,hoverinfo:'skip',zsmooth:false,xgap:0,ygap:0,
  colorscale:[[0,statusColors[0]],[0.25,statusColors[0]],[0.25,statusColors[1]],[0.5,statusColors[1]],[0.5,statusColors[2]],[0.75,statusColors[2]],[0.75,statusColors[3]],[1,statusColors[3]]]
}];
Object.keys(segs).forEach(c=>traces.push({type:'scatter',mode:'lines',xaxis:'x2',yaxis:'y2',x:segs[c].x,y:segs[c].y,line:{color:c,width:c==='#000000'?2.6:2.3},hoverinfo:'skip',showlegend:false,cliponaxis:false}));

const hidden={showgrid:false,zeroline:false,showticklabels:false,ticks:''};
const layout={
  width:W,height:H,margin:{l:0,r:0,t:0,b:0},paper_bgcolor:'#fff',plot_bgcolor:'#fff',showlegend:false,font:font,
  xaxis:Object.assign({},hidden,{domain:[px(29.5),px(1100)],range:[-0.5,nCountries-0.5],anchor:'y',showline:true,mirror:true,linecolor:'#333',linewidth:1.5}),
  yaxis:Object.assign({},hidden,{domain:[py(2532),py(1057)],range:[nItems-0.5,-0.5],anchor:'x',showline:true,mirror:true,linecolor:'#333',linewidth:1.5}),
  xaxis2:Object.assign({},hidden,{domain:[px(29.5),px(1100)],range:[-0.5,nCountries-0.5],anchor:'y2',showline:false}),
  yaxis2:Object.assign({},hidden,{domain:[py(1057),py(487)],range:[0,570],anchor:'x2',showline:false}),
  shapes:shapes,annotations:annotations
};
Plotly.newPlot('chart',traces,layout,{staticPlot:true,displayModeBar:false});
</script></body></html>
